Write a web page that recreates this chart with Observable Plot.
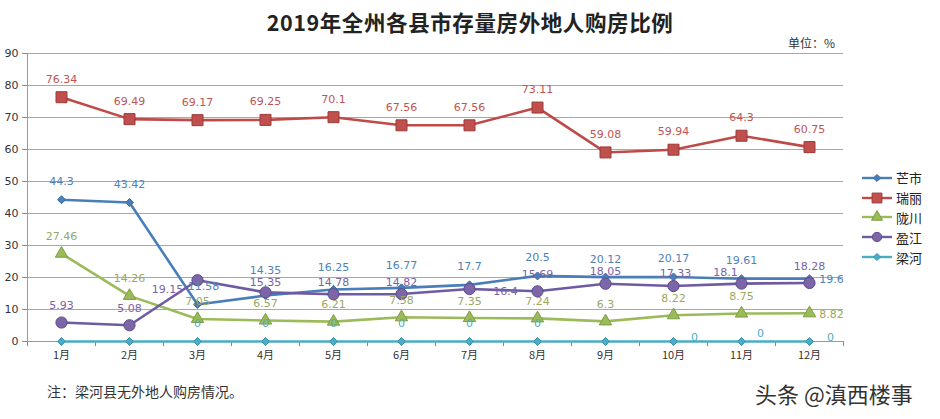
<!DOCTYPE html>
<html><head><meta charset="utf-8">
<script src="https://cdn.jsdelivr.net/npm/d3@7"></script>
<script src="https://cdn.jsdelivr.net/npm/@observablehq/plot@0.6"></script>
<style>
body{margin:0;background:#fff;}
#wrap{position:relative;width:940px;height:419px;overflow:hidden;font-family:"Noto Sans CJK SC","Noto Sans",sans-serif;background:#fff;}
#chart{position:absolute;left:0;top:0;}
#title{position:absolute;left:0;width:940px;top:6px;text-align:center;font-size:21.5px;font-weight:bold;color:#222;letter-spacing:0.6px;z-index:2;}
#unit{position:absolute;left:788px;top:34px;font-size:12px;color:#333;z-index:2;}
#note{position:absolute;left:47px;top:381px;font-size:14px;color:#333;z-index:2;}
#wm{position:absolute;left:755px;top:377px;font-size:22px;color:#333;z-index:2;}
#legend{position:absolute;left:860px;top:168px;z-index:2;font-size:13px;color:#222;}
.li{display:flex;align-items:center;height:19.8px;}
.li svg{margin-right:2px;}
</style></head><body>
<div id="wrap">
  <div id="chart"></div>
  <div id="title">2019年全州各县市存量房外地人购房比例</div>
  <div id="unit">单位：%</div>
  <div id="legend"></div>
  <div id="note">注：梁河县无外地人购房情况。</div>
  <div id="wm">头条 @滇西楼事</div>
</div>
<script>
const months = [1,2,3,4,5,6,7,8,9,10,11,12];
const monthLabels = months.map(m => m + "月");
const seriesNames = ["芒市","瑞丽","陇川","盈江","梁河"];
const mangshi = [44.3,43.42,11.58,14.35,16.25,16.77,17.7,20.5,20.12,20.17,19.61,19.6];
const ruili   = [76.34,69.49,69.17,69.25,70.1,67.56,67.56,73.11,59.08,59.94,64.3,60.75];
const longchuan = [27.46,14.26,7.05,6.57,6.21,7.58,7.35,7.24,6.3,8.22,8.75,8.82];
const yingjiang = [5.93,5.08,19.15,15.35,14.78,14.82,16.4,15.69,18.05,17.33,18.1,18.28];
const lianghe = [0,0,0,0,0,0,0,0,0,0,0,0];
const yTicks = [0,10,20,30,40,50,60,70,80,90];
const bandEdges = [0.5,1.5,2.5,3.5,4.5,5.5,6.5,7.5,8.5,9.5,10.5,11.5,12.5];

// styles
const styles = {
  "芒市": {line:"#4a7ebb", fill:"#4a7ebb", stroke:"#3d6ca3", symbol:"diamond2", r:3.6, label:"#4f83b8"},
  "瑞丽": {line:"#be4b48", fill:"#c0504d", stroke:"#9b3a38", symbol:"square", r:6.2, label:"#bf5552"},
  "陇川": {line:"#9bbb59", fill:"#9bbb59", stroke:"#7e9c43", symbol:"triangle", r:4.6, label:"#98a865"},
  "盈江": {line:"#6e5ba3", fill:"#7c66a8", stroke:"#5b4a8a", symbol:"circle", r:5.6, label:"#7a62a5"},
  "梁河": {line:"#4bacc6", fill:"#4bacc6", stroke:"#3a93ab", symbol:"diamond2", r:3.6, label:"#4bacc6"}
};
// label offsets (dx, dy) per month
const labelOffsets = {
  "芒市": months.map(m => m === 12 ? [22,1] : m === 3 ? [6,-18] : m === 4 ? [0,-25] : (m === 5 || m === 6) ? [0,-22] : [0,-18]),
  "瑞丽": months.map(m => [0,-18]),
  "陇川": months.map(m => m === 12 ? [22,1] : [0,-17]),
  "盈江": months.map(m => m === 3 ? [-30,9] : m === 7 ? [36,2] : m === 11 ? [-16,-11] : m === 10 ? [2,-13] : m === 4 ? [0,-10] : (m === 5 || m === 6) ? [0,-12] : m === 9 ? [0,-12] : [0,-17]),
  "梁河": months.map(m => m >= 10 ? (m === 11 ? [19,-8] : [21,-4]) : [0,-18])
};
const showLabel = {
  "梁河": m => m >= 3 && m !== 9
};

const seriesValues = {"芒市":mangshi,"瑞丽":ruili,"陇川":longchuan,"盈江":yingjiang,"梁河":lianghe};
const rows = seriesNames.flatMap(s => months.map((m,i) => ({s, m, v: seriesValues[s][i], i})));

const marks = [
  Plot.ruleY(yTicks.filter(t => t > 0), {y: d => d, x1: 0.5, x2: 12.5, stroke: "#a8a8a8", strokeWidth: 1.2}),
  Plot.axisY({ticks: yTicks, tickSize: 5, tickPadding: 4, fontSize: 11, fill: "#333", stroke: "#888", label: null, fontFamily: "DejaVu Sans"}),
  Plot.ruleX([0.5], {y1: 0, y2: 90, stroke: "#999"}),
  Plot.axisX({ticks: bandEdges, tickSize: 5, tickFormat: () => "", stroke: "#888", label: null}),
  Plot.axisX({ticks: months, tickSize: 0, tickPadding: 10, tickFormat: m => m + "月", fontSize: 11, fill: "#333", label: null, fontFamily: "Noto Sans CJK SC"}),
  Plot.ruleY([0], {x1: 0.5, x2: 12.5, stroke: "#999"})
];
for (const s of seriesNames) {
  const st = styles[s];
  const data = rows.filter(d => d.s === s);
  marks.push(Plot.line(data, {x: "m", y: "v", stroke: st.line, strokeWidth: 2.6}));
}
for (const s of seriesNames) {
  const st = styles[s];
  const data = rows.filter(d => d.s === s);
  marks.push(Plot.dot(data, {x: "m", y: "v", symbol: () => st.symbol, r: st.r, fill: st.fill, stroke: st.stroke, strokeWidth: 1}));
}
for (const s of seriesNames) {
  const st = styles[s];
  const filt = showLabel[s] || (() => true);
  const data = rows.filter(d => d.s === s && filt(d.m));
  const groups = d3.groups(data, d => labelOffsets[s][d.i].join(","));
  for (const [key, g] of groups) {
    const [dx, dy] = key.split(",").map(Number);
    marks.push(Plot.text(g, {x: "m", y: "v", text: d => String(d.v), dx, dy, fill: st.label, fontSize: 11, fontFamily: "DejaVu Sans"}));
  }
}

const chart = Plot.plot({
  width: 940, height: 419,
  marginLeft: 27, marginRight: 97, marginTop: 53, marginBottom: 78,
  x: {type: "linear", domain: [0.5, 12.5]},
  y: {domain: [0, 90]},
  symbol: {type: "identity"},
  style: {background: "transparent"},
  marks
});
document.getElementById("chart").appendChild(chart);

// legend
const leg = document.getElementById("legend");
for (const s of seriesNames) {
  const st = styles[s];
  const row = document.createElement("div");
  row.className = "li";
  const sw = d3.create("svg").attr("width", 34).attr("height", 14);
  sw.append("line").attr("x1", 2).attr("x2", 32).attr("y1", 7).attr("y2", 7).attr("stroke", st.line).attr("stroke-width", 2.4);
  const sym = d3.symbol().type({
    circle: d3.symbolCircle, square: d3.symbolSquare, triangle: d3.symbolTriangle, diamond2: d3.symbolDiamond2
  }[st.symbol]).size(Math.PI * st.r * st.r * (st.symbol === "circle" ? 0.7 : 0.8));
  sw.append("path").attr("d", sym()).attr("transform", "translate(17,7)").attr("fill", st.fill).attr("stroke", st.stroke);
  row.appendChild(sw.node());
  const t = document.createElement("span");
  t.textContent = s;
  row.appendChild(t);
  leg.appendChild(row);
}
</script>
</body></html>
